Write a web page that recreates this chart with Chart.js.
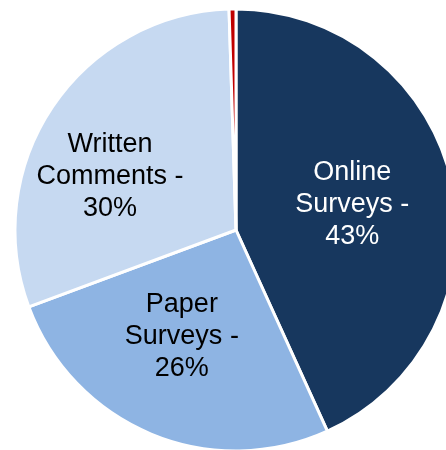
<!DOCTYPE html>
<html>
<head>
<meta charset="utf-8">
<script src="https://cdn.jsdelivr.net/npm/chart.js@4/dist/chart.umd.min.js"></script>
<style>
  html, body { margin: 0; padding: 0; background: #ffffff; overflow: hidden; }
  #wrap { position: absolute; left: 0; top: 0; width: 472px; height: 460px; }
</style>
</head>
<body>
<div id="wrap"><canvas id="chart"></canvas></div>
<script>
// Feedback sources, share of responses (%)
const categories = ['Online Surveys', 'Paper Surveys', 'Written Comments', 'Other'];
const shares = [43, 26, 30, 0.5];
const sliceColors = ['#17375E', '#8EB4E3', '#C6D9F1', '#C00000'];

// Text for the in-slice labels (one array entry per line)
const labelLines = [
  ['Online', 'Surveys -', '43%'],
  ['Paper', 'Surveys -', '26%'],
  ['Written', 'Comments -', '30%'],
  null
];
const labelColors = ['#FFFFFF', '#000000', '#000000', null];
// Label anchor, as a fraction of the outer radius from the pie centre
const labelAnchor = [[0.526, -0.117], [-0.245, 0.483], [-0.57, -0.24], null];

const sliceLabels = {
  id: 'sliceLabels',
  afterDatasetsDraw(chart) {
    const ctx = chart.ctx;
    const meta = chart.getDatasetMeta(0);
    ctx.save();
    ctx.font = '27px "Liberation Sans", Arial, sans-serif';
    ctx.textAlign = 'center';
    ctx.textBaseline = 'middle';
    const lineH = 32;
    meta.data.forEach((arc, i) => {
      const lines = labelLines[i];
      if (!lines) return;
      const r = arc.outerRadius;
      const cx = arc.x + labelAnchor[i][0] * r;
      const cy = arc.y + labelAnchor[i][1] * r;
      ctx.fillStyle = labelColors[i];
      const top = cy - (lines.length - 1) * lineH / 2;
      lines.forEach((t, k) => ctx.fillText(t, cx, top + k * lineH));
    });
    ctx.restore();
  }
};

new Chart(document.getElementById('chart'), {
  type: 'pie',
  data: {
    labels: categories,
    datasets: [{
      data: shares,
      backgroundColor: sliceColors,
      borderColor: '#FFFFFF',
      borderWidth: 3,
      radius: 221
    }]
  },
  options: {
    responsive: true,
    maintainAspectRatio: false,
    animation: false,
    layout: { padding: 0 },
    plugins: {
      legend: { display: false },
      tooltip: { enabled: false }
    }
  },
  plugins: [sliceLabels]
});
</script>
</body>
</html>
